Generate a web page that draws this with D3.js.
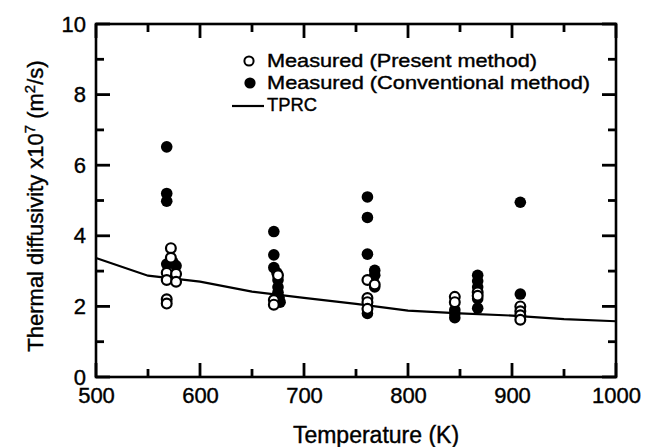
<!DOCTYPE html>
<html>
<head>
<meta charset="utf-8">
<script src="https://cdn.jsdelivr.net/npm/d3@7"></script>
<style>
  body { margin: 0; background: #fff; }
  text { font-family: "Liberation Sans", Arial, sans-serif; fill: #000; }
</style>
</head>
<body>
<div id="chart"></div>
<script>
// Measured (Present method) - open circles, [T (K), diffusivity x1e7]
const presentPts = [
  [572, 3.65], [572, 3.38], [568, 2.95], [577, 2.92], [568, 2.75], [577, 2.70], [568, 2.20], [568, 2.08],
  [675, 2.88], [671, 2.18], [671, 2.05],
  [761, 2.75], [768, 2.62], [761, 2.24], [761, 2.12], [761, 1.93],
  [845, 2.27], [845, 2.12],
  [867, 2.40], [867, 2.30],
  [908, 2.00], [908, 1.86], [908, 1.75], [908, 1.62]
];

// Measured (Conventional method) - filled circles
const conventionalPts = [
  [568, 6.52], [568, 5.20], [568, 4.98], [568, 3.20], [574, 3.25], [577, 3.15],
  [671, 4.12], [671, 3.46], [671, 3.10], [674, 2.95], [675, 2.75], [675, 2.55], [675, 2.40], [676, 2.25], [677, 2.12],
  [761, 5.10], [761, 4.52], [761, 3.48], [768, 3.02], [768, 2.88], [768, 2.55], [761, 1.80],
  [845, 1.90], [845, 1.80], [845, 1.68],
  [867, 2.88], [867, 2.72], [867, 2.55], [867, 2.22], [867, 1.95],
  [908, 4.95], [908, 2.35]
];

// TPRC reference curve
const tprcT = [500, 550, 600, 650, 700, 750, 800, 850, 900, 950, 1000];
const tprcV = [3.37, 2.87, 2.70, 2.42, 2.24, 2.07, 1.88, 1.80, 1.74, 1.64, 1.58];

const xMajor = [500, 600, 700, 800, 900, 1000];
const xMinor = [550, 650, 750, 850, 950];
const yMajor = [0, 2, 4, 6, 8, 10];
const yMinor = [1, 3, 5, 7, 9];

const legendItems = ["Measured (Present method)", "Measured (Conventional method)", "TPRC"];

const W = 659, H = 447;
const plot = { left: 96, right: 616, top: 24, bottom: 377 };

const svg = d3.select("#chart").append("svg")
  .attr("width", W)
  .attr("height", H);

svg.append("rect").attr("x", 0).attr("y", 0).attr("width", W).attr("height", H).attr("fill", "#fff");

const x = d3.scaleLinear().domain([500, 1000]).range([plot.left, plot.right]);
const y = d3.scaleLinear().domain([0, 10]).range([plot.bottom, plot.top]);

// tick labels from d3 axes; tick marks drawn at the end
function labelAxis(g) {
  g.select(".domain").remove();
  g.selectAll(".tick line").remove();
  g.selectAll(".tick text")
    .style("font-family", '"Liberation Sans", Arial, sans-serif')
    .style("font-size", "22px")
    .attr("fill", "#000")
    .attr("stroke", "#000")
    .attr("stroke-width", 0.4);
}
svg.append("g").attr("transform", `translate(0,${plot.bottom})`)
  .call(d3.axisBottom(x).tickValues(xMajor).tickSize(0).tickPadding(10).tickFormat(d3.format("d")))
  .call(labelAxis);
svg.append("g").attr("transform", `translate(${plot.left},0)`)
  .call(d3.axisLeft(y).tickValues(yMajor).tickSize(0).tickPadding(10).tickFormat(d3.format("d")))
  .call(labelAxis);

// frame
svg.append("rect")
  .attr("x", plot.left).attr("y", plot.top)
  .attr("width", plot.right - plot.left).attr("height", plot.bottom - plot.top)
  .attr("fill", "none").attr("stroke", "#000").attr("stroke-width", 2.6);

// TPRC line
const tprcLine = d3.line().x(d => x(d[0])).y(d => y(d[1]));
svg.append("path")
  .datum(tprcT.map((t, i) => [t, tprcV[i]]))
  .attr("d", tprcLine)
  .attr("fill", "none")
  .attr("stroke", "#000")
  .attr("stroke-width", 2.2);

// filled markers
svg.append("g").selectAll("circle")
  .data(conventionalPts)
  .join("circle")
  .attr("cx", d => x(d[0]))
  .attr("cy", d => y(d[1]))
  .attr("r", 5.8)
  .attr("fill", "#000");

// open markers
svg.append("g").selectAll("circle")
  .data(presentPts)
  .join("circle")
  .attr("cx", d => x(d[0]))
  .attr("cy", d => y(d[1]))
  .attr("r", 4.9)
  .attr("fill", "#fff")
  .attr("stroke", "#000")
  .attr("stroke-width", 2.2);

// legend
const leg = svg.append("g");
leg.append("circle").attr("cx", 249).attr("cy", 61).attr("r", 4.6)
  .attr("fill", "#fff").attr("stroke", "#000").attr("stroke-width", 2);
leg.append("circle").attr("cx", 250).attr("cy", 83).attr("r", 5.6).attr("fill", "#000");
leg.append("line").attr("x1", 232).attr("x2", 264).attr("y1", 106).attr("y2", 106)
  .attr("stroke", "#000").attr("stroke-width", 2.2);
const legWidths = [270, 323, 50];
leg.selectAll("text")
  .data(legendItems)
  .join("text")
  .attr("x", 267)
  .attr("y", (d, i) => 67 + i * 22)
  .style("font-size", "19px")
  .attr("stroke", "#000")
  .attr("stroke-width", 0.4)
  .attr("textLength", (d, i) => legWidths[i])
  .attr("lengthAdjust", "spacingAndGlyphs")
  .text(d => d);

// axis titles
svg.append("text")
  .attr("x", 376)
  .attr("y", 443)
  .attr("text-anchor", "middle")
  .attr("stroke", "#000")
  .attr("stroke-width", 0.4)
  .style("font-size", "23px")
  .text("Temperature (K)");

const yt = svg.append("text")
  .attr("transform", "translate(43,206) rotate(-90)")
  .attr("text-anchor", "middle")
  .attr("stroke", "#000")
  .attr("stroke-width", 0.4)
  .style("font-size", "22px");
yt.append("tspan").text("Thermal diffusivity x10");
yt.append("tspan").attr("dy", -8).style("font-size", "15px").text("7");
yt.append("tspan").attr("dy", 8).text(" (m");
yt.append("tspan").attr("dy", -8).style("font-size", "15px").text("2");
yt.append("tspan").attr("dy", 8).text("/s)");

// inward tick marks on all four sides, drawn last
function xTickMarks(vals, len) {
  svg.append("g").selectAll("line").data(vals).join("line")
    .attr("x1", d => x(d)).attr("x2", d => x(d))
    .attr("y1", plot.bottom).attr("y2", plot.bottom - len)
    .attr("stroke", "#000").attr("stroke-width", 2.8);
  svg.append("g").selectAll("line").data(vals).join("line")
    .attr("x1", d => x(d)).attr("x2", d => x(d))
    .attr("y1", plot.top).attr("y2", plot.top + len)
    .attr("stroke", "#000").attr("stroke-width", 2.8);
}
function yTickMarks(vals, len) {
  svg.append("g").selectAll("line").data(vals).join("line")
    .attr("y1", d => y(d)).attr("y2", d => y(d))
    .attr("x1", plot.left).attr("x2", plot.left + len)
    .attr("stroke", "#000").attr("stroke-width", 2.8);
  svg.append("g").selectAll("line").data(vals).join("line")
    .attr("y1", d => y(d)).attr("y2", d => y(d))
    .attr("x1", plot.right).attr("x2", plot.right - len)
    .attr("stroke", "#000").attr("stroke-width", 2.8);
}
xTickMarks(xMajor, 14);
xTickMarks(xMinor, 8);
yTickMarks(yMajor, 14);
yTickMarks(yMinor, 8);
</script>
</body>
</html>
